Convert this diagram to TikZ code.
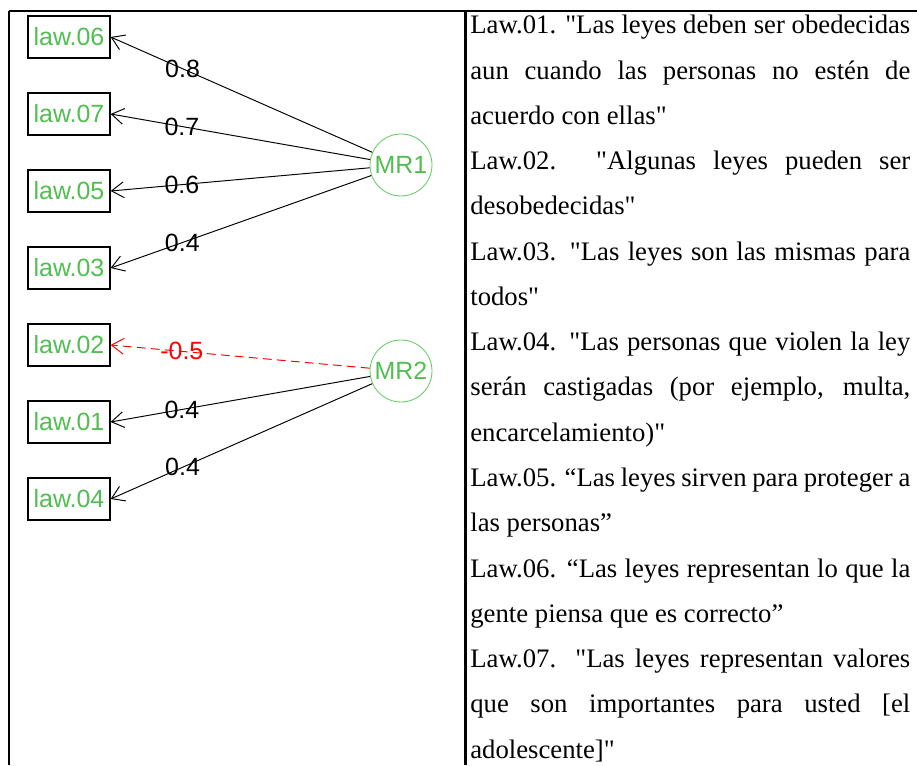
\documentclass[tikz,border=0pt]{standalone}
\usepackage{fontspec}
\setmainfont{Liberation Serif}[Ligatures=TeXOff]
\newfontfamily\diagfont{Liberation Sans}
\usetikzlibrary{arrows.meta}
\definecolor{lawgreen}{RGB}{80,190,80}
\definecolor{ringgreen}{RGB}{105,205,105}
\newcommand{\diagsize}{\diagfont\fontsize{14.2}{16}\selectfont}

\begin{document}
\begin{tikzpicture}[>={Straight Barb[length=7pt,width=9pt]},
  item/.style={draw,line width=0.7pt,minimum width=1.64cm,minimum height=0.84cm,
    inner sep=0pt,text=lawgreen,font=\diagsize},
  factor/.style={circle,draw=ringgreen,line width=0.5pt,minimum size=1.24cm,
    inner sep=0pt,text=lawgreen,font=\diagsize},
  load/.style={pos=0.725,inner sep=0pt,font=\diagsize},
  path/.style={->,line width=0.55pt},
  fullline/.style={anchor=base west,inner sep=0pt,font=\fontsize{15.2}{18}\selectfont},
  lastline/.style={fullline}]
\useasboundingbox (0,0) rectangle (18.34,15.3);
% table rules
\draw[line width=0.75pt] (0.18,15.08) -- (18.34,15.08);
\draw[line width=1.3pt] (0.18,15.08) -- (0.18,0);
\draw[line width=1.3pt] (9.31,15.08) -- (9.31,0);

% items and factors
\foreach \n/\y in {06/14.56,07/13.02,05/11.48,03/9.94,02/8.40,01/6.86,04/5.32}
  \node[item] (law\n) at (1.38,\y) {law.\n};
\node[factor] (MR1) at (8.02,12.0) {MR1};
\node[factor] (MR2) at (8.02,7.88) {MR2};

% loadings
\foreach \n/\v in {06/0.8,07/0.7,05/0.6,03/0.4}
  \draw[path] (MR1) -- (law\n.east) node[load]{\v};
\draw[path,red,dash pattern=on 5pt off 3pt] (MR2) -- (law02.east) node[load]{-0.5};
\foreach \n in {01,04}
  \draw[path] (MR2) -- (law\n.east) node[load]{0.4};

% item texts
\foreach \k/\t in {1/{Law.01. "Las leyes deben ser obedecidas},
    2/{aun cuando las personas no estén de},
    4/{Law.02. "Algunas leyes pueden ser},
    6/{Law.03. "Las leyes son las mismas para},
    8/{Law.04. "Las personas que violen la ley},
    9/{serán castigadas (por ejemplo, multa,},
    11/{Law.05. “Las leyes sirven para proteger a},
    13/{Law.06. “Las leyes representan lo que la},
    15/{Law.07. "Las leyes representan valores},
    16/{que son importantes para usted [el}}
  \node[fullline] (t\k) at (9.40,{14.62-(\k-1)*0.905}) {\makebox[8.80cm][s]{\t}};
\foreach \k/\t in {3/{acuerdo con ellas"},5/{desobedecidas"},7/{todos"},
    10/{encarcelamiento)"},12/{las personas”},14/{gente piensa que es correcto”},
    17/{adolescente]"}}
  \node[lastline] (t\k) at (9.40,{14.62-(\k-1)*0.905}) {\t};
\end{tikzpicture}
\end{document}
